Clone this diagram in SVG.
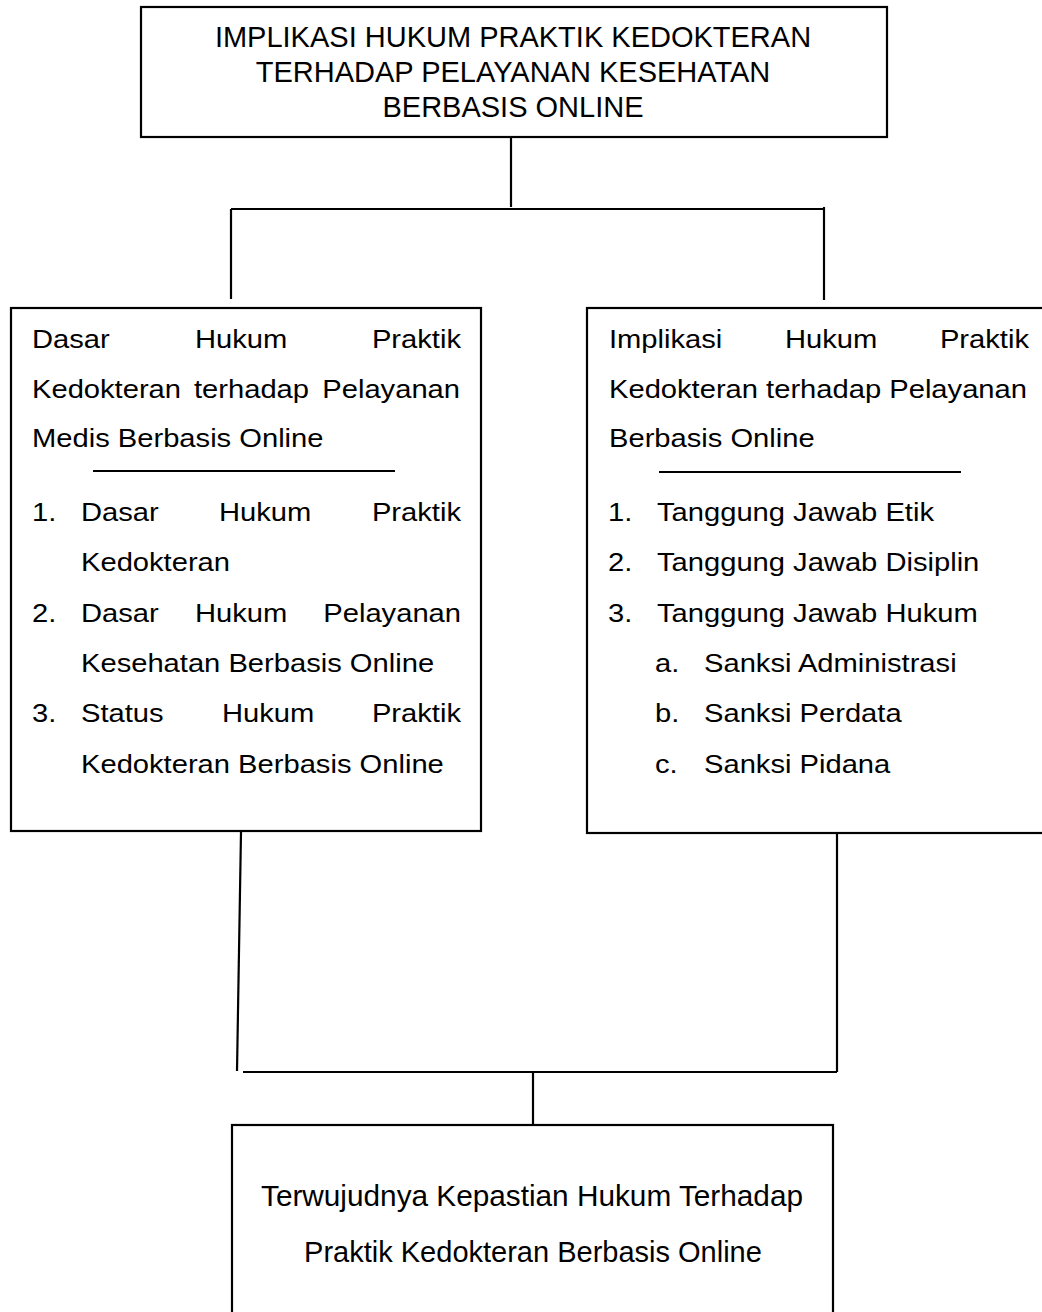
<svg xmlns="http://www.w3.org/2000/svg" width="1042" height="1312" viewBox="0 0 1042 1312">
<style>
.box{fill:#fff;stroke:#000;stroke-width:2.2}
.c{fill:none;stroke:#000;stroke-width:2.2}
.t{font-family:"Liberation Sans",Arial,sans-serif;font-size:26.5px;fill:#000}
.h{font-family:"Liberation Sans",Arial,sans-serif;font-size:29px;fill:#000;text-anchor:middle}
.e{text-anchor:end}
.sep{stroke:#000;stroke-width:2}
</style>
<rect width="1042" height="1312" fill="#fff"/>
<g id="connectors">
<path class="c" d="M511 137 V207"/>
<path class="c" d="M231 209 H824"/>
<path class="c" d="M231 209 V299"/>
<path class="c" d="M824 207 V300"/>
<path class="c" d="M241 832 L237 1071"/>
<path class="c" d="M243 1072 H837"/>
<path class="c" d="M837 833 V1072"/>
<path class="c" d="M533 1072 V1125"/>
</g>
<g id="node-top">
<rect class="box" x="141" y="7" width="746" height="130"/>
<text class="h" x="513" y="47">IMPLIKASI HUKUM PRAKTIK KEDOKTERAN</text>
<text class="h" x="513" y="82">TERHADAP PELAYANAN KESEHATAN</text>
<text class="h" x="513" y="117">BERBASIS ONLINE</text>
</g>
<g id="node-left">
<rect class="box" x="11" y="308" width="470" height="523"/>
<text class="t" transform="translate(32 348) scale(1.1 1)">Dasar</text>
<text class="t" transform="translate(195 348) scale(1.1 1)">Hukum</text>
<text class="t e" transform="translate(461 348) scale(1.1 1)">Praktik</text>
<text class="t" transform="translate(32 398) scale(1.1 1)">Kedokteran</text>
<text class="t" transform="translate(194 398) scale(1.1 1)">terhadap</text>
<text class="t e" transform="translate(460 398) scale(1.1 1)">Pelayanan</text>
<text class="t" transform="translate(32 447) scale(1.1 1)">Medis Berbasis Online</text>
<line class="sep" x1="93" y1="471" x2="395" y2="471"/>
<text class="t" transform="translate(32 521) scale(1.1 1)">1.</text>
<text class="t" transform="translate(81 521) scale(1.1 1)">Dasar</text>
<text class="t" transform="translate(219 521) scale(1.1 1)">Hukum</text>
<text class="t e" transform="translate(461 521) scale(1.1 1)">Praktik</text>
<text class="t" transform="translate(81 571) scale(1.1 1)">Kedokteran</text>
<text class="t" transform="translate(32 622) scale(1.1 1)">2.</text>
<text class="t" transform="translate(81 622) scale(1.1 1)">Dasar</text>
<text class="t" transform="translate(195 622) scale(1.1 1)">Hukum</text>
<text class="t e" transform="translate(461 622) scale(1.1 1)">Pelayanan</text>
<text class="t" transform="translate(81 672) scale(1.1 1)">Kesehatan Berbasis Online</text>
<text class="t" transform="translate(32 722) scale(1.1 1)">3.</text>
<text class="t" transform="translate(81 722) scale(1.1 1)">Status</text>
<text class="t" transform="translate(222 722) scale(1.1 1)">Hukum</text>
<text class="t e" transform="translate(461 722) scale(1.1 1)">Praktik</text>
<text class="t" transform="translate(81 773) scale(1.1 1)">Kedokteran Berbasis Online</text>
</g>
<g id="node-right">
<rect class="box" x="587" y="308" width="470" height="525"/>
<text class="t" transform="translate(609 348) scale(1.1 1)">Implikasi</text>
<text class="t" transform="translate(785 348) scale(1.1 1)">Hukum</text>
<text class="t e" transform="translate(1029 348) scale(1.1 1)">Praktik</text>
<text class="t" transform="translate(609 398) scale(1.1 1)">Kedokteran terhadap Pelayanan</text>
<text class="t" transform="translate(609 447) scale(1.1 1)">Berbasis Online</text>
<line class="sep" x1="659" y1="472" x2="961" y2="472"/>
<text class="t" transform="translate(608 521) scale(1.1 1)">1.</text>
<text class="t" transform="translate(657 521) scale(1.1 1)">Tanggung Jawab Etik</text>
<text class="t" transform="translate(608 571) scale(1.1 1)">2.</text>
<text class="t" transform="translate(657 571) scale(1.1 1)">Tanggung Jawab Disiplin</text>
<text class="t" transform="translate(608 622) scale(1.1 1)">3.</text>
<text class="t" transform="translate(657 622) scale(1.1 1)">Tanggung Jawab Hukum</text>
<text class="t" transform="translate(655 672) scale(1.1 1)">a.</text>
<text class="t" transform="translate(704 672) scale(1.1 1)">Sanksi Administrasi</text>
<text class="t" transform="translate(655 722) scale(1.1 1)">b.</text>
<text class="t" transform="translate(704 722) scale(1.1 1)">Sanksi Perdata</text>
<text class="t" transform="translate(655 773) scale(1.1 1)">c.</text>
<text class="t" transform="translate(704 773) scale(1.1 1)">Sanksi Pidana</text>
</g>
<g id="node-bottom">
<rect class="box" x="232" y="1125" width="601" height="200"/>
<text class="h" x="532" y="1206" textLength="542" lengthAdjust="spacingAndGlyphs">Terwujudnya Kepastian Hukum Terhadap</text>
<text class="h" x="533" y="1262">Praktik Kedokteran Berbasis Online</text>
</g>
</svg>
